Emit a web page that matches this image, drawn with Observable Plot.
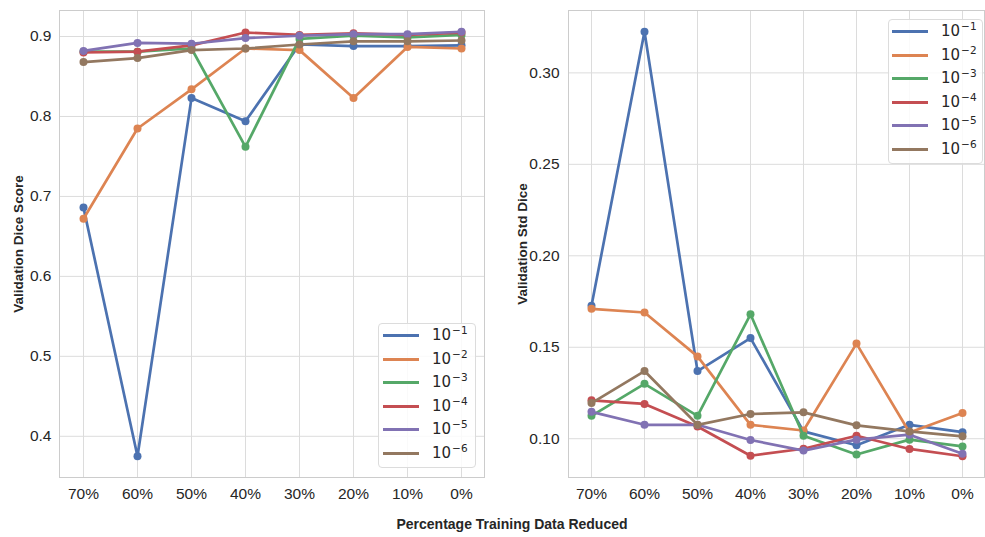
<!DOCTYPE html>
<html>
<head>
<meta charset="utf-8">
<script src="https://cdn.jsdelivr.net/npm/d3@7"></script>
<script src="https://cdn.jsdelivr.net/npm/@observablehq/plot@0.6"></script>
<style>
  html, body { margin: 0; padding: 0; background: #fff; }
  #wrap { position: relative; width: 985px; height: 537px; overflow: hidden; font-family: "Liberation Sans", Arial, sans-serif; color: #262626; }
  .panel { position: absolute; top: 0; }
  .legend { position: absolute; background: rgba(255,255,255,0.85); border: 1px solid #dcdcdc; border-radius: 4px; box-sizing: border-box; font-family: "DejaVu Sans", sans-serif; font-size: 15px; color: #262626; }
  .legend .row { position: absolute; left: 0; height: 22px; display: flex; align-items: center; }
  .legend .sw { height: 3px; width: 36px; }
  .legend sup { font-size: 10.5px; vertical-align: 6px; line-height: 0; margin-left: 1px; }
  .title { position: absolute; font-weight: bold; white-space: nowrap; transform: translate(-50%, -50%); color: #262626; }
</style>
</head>
<body>
<div id="wrap"></div>
<script>
// ---- data ----
const categories = ["70%", "60%", "50%", "40%", "30%", "20%", "10%", "0%"];
const seriesExponents = ["−1", "−2", "−3", "−4", "−5", "−6"];

const diceMean_1e1 = [0.686, 0.375, 0.823, 0.794, 0.890, 0.888, 0.888, 0.889];
const diceMean_1e2 = [0.672, 0.785, 0.834, 0.885, 0.883, 0.823, 0.887, 0.885];
const diceMean_1e3 = [0.881, 0.881, 0.885, 0.762, 0.897, 0.901, 0.899, 0.902];
const diceMean_1e4 = [0.880, 0.881, 0.889, 0.905, 0.902, 0.904, 0.902, 0.905];
const diceMean_1e5 = [0.882, 0.892, 0.891, 0.898, 0.901, 0.903, 0.903, 0.906];
const diceMean_1e6 = [0.868, 0.873, 0.883, 0.885, 0.890, 0.894, 0.894, 0.895];

const diceStd_1e1 = [0.1727, 0.3225, 0.137, 0.155, 0.104, 0.0964, 0.1076, 0.1036];
const diceStd_1e2 = [0.171, 0.169, 0.145, 0.1076, 0.1045, 0.152, 0.1034, 0.114];
const diceStd_1e3 = [0.1125, 0.130, 0.1125, 0.168, 0.1016, 0.0914, 0.0995, 0.0958];
const diceStd_1e4 = [0.121, 0.119, 0.1067, 0.0907, 0.0945, 0.1016, 0.0944, 0.0904];
const diceStd_1e5 = [0.1147, 0.1076, 0.1076, 0.0993, 0.0935, 0.0995, 0.1022, 0.0918];
const diceStd_1e6 = [0.1195, 0.137, 0.1076, 0.1135, 0.1144, 0.1073, 0.104, 0.1013];

const leftTicks = [0.4, 0.5, 0.6, 0.7, 0.8, 0.9];
const rightTicks = [0.10, 0.15, 0.20, 0.25, 0.30];

// ---- styles ----
const palette = ["#4C72B0", "#DD8452", "#55A868", "#C44E52", "#8172B3", "#937860"];
const FONT = "'Liberation Sans', Arial, sans-serif";

const meanSeries = [diceMean_1e1, diceMean_1e2, diceMean_1e3, diceMean_1e4, diceMean_1e5, diceMean_1e6];
const stdSeries = [diceStd_1e1, diceStd_1e2, diceStd_1e3, diceStd_1e4, diceStd_1e5, diceStd_1e6];

function toRows(arrs) {
  return arrs.map((vals, s) => vals.map((v, i) => ({cat: categories[i], v, s})));
}
function padDomain(arrs) {
  const all = arrs.flat();
  const [lo, hi] = d3.extent(all);
  const m = (hi - lo) * 0.05;
  return [lo - m, hi + m];
}

function makePanel(arrs, ticks, fmt, opts) {
  const rows = toRows(arrs);
  const marks = [
    Plot.ruleX(categories, {stroke: "#dcdcdc", strokeWidth: 1}),
    Plot.ruleY(ticks, {stroke: "#dcdcdc", strokeWidth: 1}),
    Plot.frame({stroke: "#cccccc", strokeWidth: 1})
  ];
  rows.forEach((r, s) => {
    marks.push(Plot.line(r, {x: "cat", y: "v", stroke: palette[s], strokeWidth: 2.7, strokeLinejoin: "round", strokeLinecap: "round"}));
    marks.push(Plot.dot(r, {x: "cat", y: "v", fill: palette[s], r: 4, stroke: "none"}));
  });
  return Plot.plot({
    width: opts.width,
    height: 537,
    marginLeft: opts.marginLeft,
    marginRight: opts.marginRight,
    marginTop: 10,
    marginBottom: 60,
    style: {fontFamily: FONT, fontSize: "15.5px", color: "#262626", background: "transparent", overflow: "visible"},
    x: {type: "point", domain: categories, padding: 0.364, label: null, tickSize: 0, tickPadding: 10},
    y: {domain: padDomain(arrs), ticks: ticks, tickFormat: fmt, label: null, tickSize: 0, tickPadding: opts.yPad},
    marks
  });
}

const wrap = document.getElementById("wrap");

const left = makePanel(meanSeries, leftTicks, ".1f", {width: 490, marginLeft: 59, marginRight: 6, yPad: 8});
left.classList.add("panel");
left.style.left = "0px";
wrap.appendChild(left);

const right = makePanel(stdSeries, rightTicks, ".2f", {width: 485, marginLeft: 68, marginRight: 1, yPad: 9});
right.classList.add("panel");
right.style.left = "500px";
wrap.appendChild(right);

function makeLegend(x, y, w, h, lineX, textGap) {
  const div = document.createElement("div");
  div.className = "legend";
  Object.assign(div.style, {left: x + "px", top: y + "px", width: w + "px", height: h + "px"});
  seriesExponents.forEach((e, i) => {
    const row = document.createElement("div");
    row.className = "row";
    row.style.top = Math.round(i * 23.6) + "px";
    row.style.left = lineX + "px";
    const sw = document.createElement("div");
    sw.className = "sw";
    sw.style.background = palette[i];
    const t = document.createElement("span");
    t.style.marginLeft = textGap + "px";
    t.innerHTML = "10<sup>" + e + "</sup>";
    row.appendChild(sw);
    row.appendChild(t);
    div.appendChild(row);
  });
  wrap.appendChild(div);
}
makeLegend(378, 323, 98, 145, 4, 13);
makeLegend(888, 19, 95, 145, 3, 13);

function addTitle(text, cx, cy, size, rotate) {
  const d = document.createElement("div");
  d.className = "title";
  d.textContent = text;
  d.style.left = cx + "px";
  d.style.top = cy + "px";
  d.style.fontSize = size + "px";
  if (rotate) d.style.transform = "translate(-50%, -50%) rotate(-90deg)";
  wrap.appendChild(d);
}
addTitle("Validation Dice Score", 18, 243.5, 13.5, true);
addTitle("Validation Std Dice", 522, 243.5, 13.5, true);
addTitle("Percentage Training Data Reduced", 512, 524, 14, false);
</script>
</body>
</html>
